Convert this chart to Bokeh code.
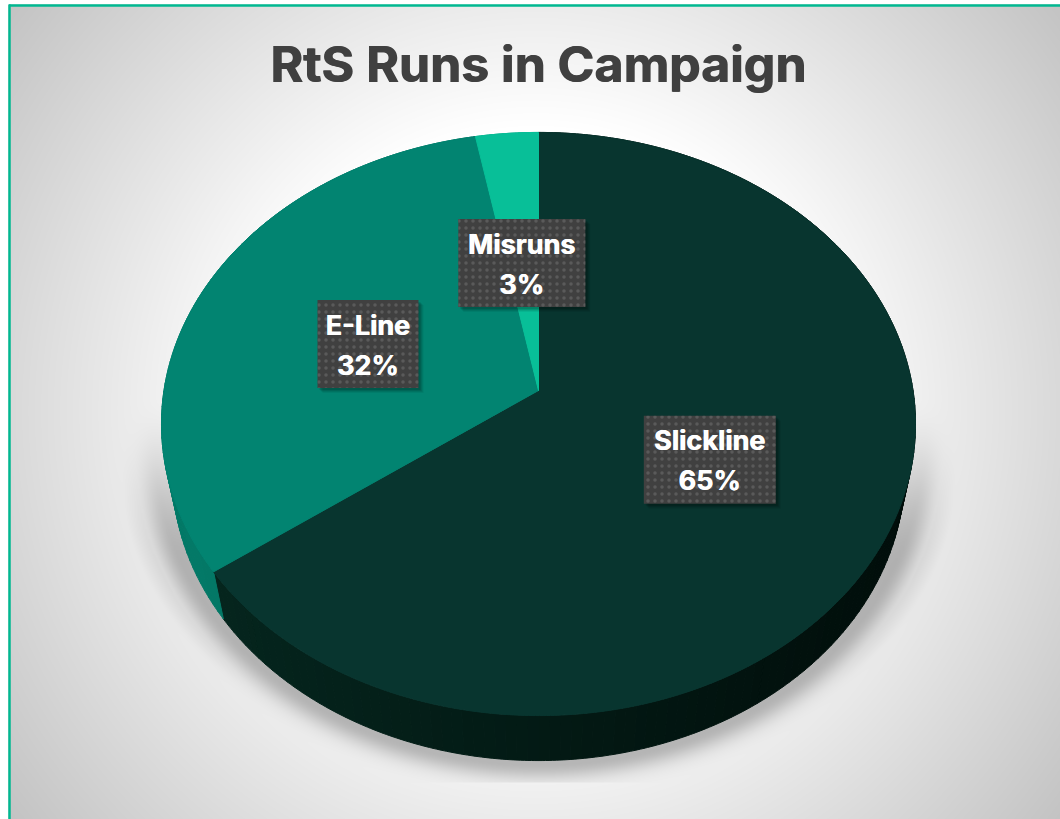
import numpy as np
from bokeh.plotting import figure
from bokeh.models import Range1d, ColumnDataSource
from bokeh.core.properties import value
from bokeh.embed import file_html
from bokeh.resources import INLINE

# ---------------- data ----------------
title_text = "RtS Runs in Campaign"
categories = ["Slickline", "E-Line", "Misruns"]
values = [65, 32, 3]

# ---------------- styles ----------------
top_colors = ["#08352f", "#028471", "#08bf98"]
side_left = ["#05271f", "#037a68", "#06a582"]
side_right = ["#010d0a", "#00614f", "#05987a"]
box_widths = [132, 101, 127]
box_height = 88
FONT = "Inter"

W, H = 1060, 819
CX, CY = 538.0, 390.0          # projected pie centre (px)
F, D = 2086.0, 5.57            # camera focal / distance (pie radius = 1)
ALPHA = np.radians(50.2)       # view tilt
THICK = 0.211                  # pie thickness


def project(theta, r=1.0, z=0.0):
    X = r * np.sin(theta)
    Y = -r * np.cos(theta)
    ca, sa = np.cos(ALPHA), np.sin(ALPHA)
    depth = D - Y * ca - z * sa
    sx = CX + X * F / depth
    sy = CY + (Y * sa - z * ca) * F / depth
    return sx, sy


def fy(ypx):
    return H - np.asarray(ypx, dtype=float)


def hex2rgb(h):
    h = h.lstrip("#")
    return np.array([int(h[i:i + 2], 16) for i in (0, 2, 4)], dtype=float)


def rgb2hex(c):
    c = np.clip(np.round(c), 0, 255).astype(int)
    return "#%02x%02x%02x" % tuple(c)


# ---------------- background image ----------------
yy, xx = np.mgrid[0:H, 0:W].astype(float)
d = np.hypot(xx - 535, yy - 410) / 680.0
g = 255 - 107 * np.clip(d - 0.42, 0, None)

r_s = np.sqrt(((xx - 538) / 380.0) ** 2 + ((yy - 452) / 310.0) ** 2)
dist = np.clip((r_s - 1) * 320, 0, None)
sh = 62 * np.exp(-(dist / 17.0) ** 2)
r2 = np.sqrt(((xx - 538) / 418.0) ** 2 + ((yy - 470) / 312.0) ** 2)
sh2 = 18 * np.clip((1.0 - r2) / 0.04, 0, 1)
fade = np.clip((yy - 395) / 170.0, 0, 1)
fade = fade * fade * (3 - 2 * fade)
shadow = np.maximum(sh, sh2) * fade
shadow[yy >= 782] = 0
g = g - shadow

rgb = np.stack([g, g, g], axis=-1)
outside = (xx < 8) | (yy < 4)
rgb[outside] = 255

img = np.empty((H, W), dtype=np.uint32)
view = img.view(dtype=np.uint8).reshape((H, W, 4))
view[:, :, 0:3] = np.clip(rgb, 0, 255).astype(np.uint8)
view[:, :, 3] = 255

p = figure(width=W, height=H, x_range=Range1d(0, W), y_range=Range1d(0, H),
           output_backend="svg", toolbar_location=None, min_border=0)
p.axis.visible = False
p.grid.visible = False
p.outline_line_color = None
p.background_fill_color = "white"
p.border_fill_color = "white"

p.image_rgba(image=[img[::-1]], x=0, y=0, dw=W, dh=H)

# chart border (continues past the window on right / bottom)
p.multi_line(xs=[[8.5, W + 20], [9, 9]], ys=[list(fy([5, 5])), list(fy([4, H + 20]))],
             line_color="#00b891", line_width=2.5)

# ---------------- pie geometry ----------------
total = float(sum(values))
cum = np.concatenate([[0.0], np.cumsum(values)]) / total * 2 * np.pi
starts, ends = cum[:-1], cum[1:]

# side walls
sx_list, sy_list, sc_list = [], [], []
step = np.radians(1.5)
for i in range(len(values)):
    a0, a1 = starts[i], ends[i]
    n = max(1, int(np.ceil((a1 - a0) / step)))
    edges = np.linspace(a0, a1, n + 1)
    cl, cr = hex2rgb(side_left[i]), hex2rgb(side_right[i])
    for k in range(n):
        th = np.linspace(edges[k], edges[k + 1], 4)
        tx, ty = project(th, 1.0, 0.0)
        bx, by = project(th[::-1], 1.0, -THICK)
        xs = np.concatenate([tx, bx])
        ys = np.concatenate([ty, by])
        t = np.clip((xs.mean() - 160) / 755.0, 0, 1)
        sx_list.append(list(xs))
        sy_list.append(list(fy(ys)))
        sc_list.append(rgb2hex(cl * (1 - t) + cr * t))

p.patches(xs=sx_list, ys=sy_list, fill_color=sc_list, line_color=sc_list, line_width=1)

# top faces
tx_list, ty_list = [], []
for i in range(len(values)):
    th = np.linspace(starts[i], ends[i], max(3, int(np.degrees(ends[i] - starts[i]) * 2)))
    ax, ay = project(th, 1.0, 0.0)
    xs = np.concatenate([[CX], ax])
    ys = np.concatenate([[CY], ay])
    tx_list.append(list(xs))
    ty_list.append(list(fy(ys)))
p.patches(xs=tx_list, ys=ty_list, fill_color=top_colors, line_color=top_colors, line_width=1)

# ---------------- data labels ----------------
mids = (starts + ends) / 2
lx, ly = project(mids, 0.5, 0.0)
ly = ly + 4 + 8 * (0.5 * np.cos(mids))   # small depth-dependent nudge
bw = np.array(box_widths, dtype=float)
for off, a in [(5, 0.06), (4, 0.08), (3, 0.10), (2, 0.12)]:
    p.quad(left=lx - bw / 2 + off, right=lx + bw / 2 + off,
           top=fy(ly - box_height / 2 + off), bottom=fy(ly + box_height / 2 + off),
           fill_color="black", fill_alpha=a, line_color=None)
p.quad(left=lx - bw / 2, right=lx + bw / 2,
       top=fy(ly - box_height / 2), bottom=fy(ly + box_height / 2),
       fill_color="#404040", line_color=None,
       hatch_pattern="dot", hatch_color="#5a5a5a", hatch_scale=7, hatch_weight=1.2)

pcts = ["%d%%" % round(v / total * 100) for v in values]
src = ColumnDataSource(dict(x=lx, yn=fy(ly - 19), yp=fy(ly + 21), name=categories, pct=pcts))
for dx in (-0.35, 0.35):
    p.text(x="x", y="yn", text="name", source=src, text_color="white",
           text_font=value(FONT), text_font_style="bold", text_font_size="27px",
           text_align="center", text_baseline="middle", x_offset=dx)
    p.text(x="x", y="yp", text="pct", source=src, text_color="white",
           text_font=value(FONT), text_font_style="bold", text_font_size="27px",
           text_align="center", text_baseline="middle", x_offset=dx)

# ---------------- title ----------------
for dx in (-0.5, 0.5):
    p.text(x=[CX], y=[fy(63)], text=[title_text], text_color="#404040",
           text_font=value(FONT), text_font_style="bold", text_font_size="50px",
           text_align="center", text_baseline="middle", x_offset=dx)

open("out.html", "w").write(file_html(p, INLINE))
